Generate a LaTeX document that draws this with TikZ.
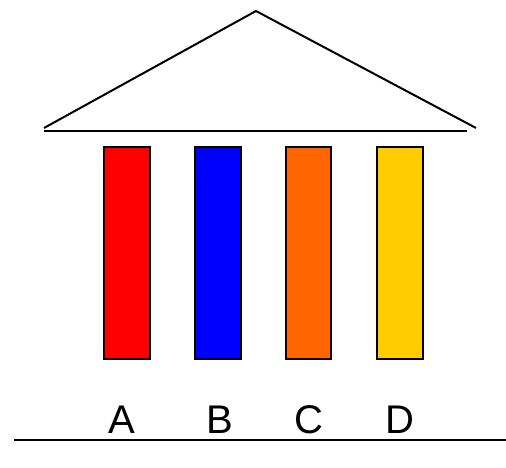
\documentclass[tikz,border=0pt]{standalone}
\usepackage{fontspec}
\setmainfont{Liberation Sans}
\definecolor{cred}{HTML}{FF0000}
\definecolor{cblue}{HTML}{0000FF}
\definecolor{corange}{HTML}{FF6600}
\definecolor{cyellow}{HTML}{FFCC00}
\begin{document}
\begin{tikzpicture}[x=1pt,y=-1pt,
  line/.style={draw=black,line width=2pt},
  pillar/.style={draw=black,line width=2pt},
  lbl/.style={inner sep=0pt,anchor=base,font=\fontsize{40}{42}\selectfont}]
\useasboundingbox (0,0) rectangle (506,467);
\coordinate (apex) at (256,11);
\coordinate (rl) at (44,128);
\coordinate (rr) at (476,128);
\draw[line,line join=miter] (rl) -- (apex) -- (rr);
\coordinate (bl) at (44,131);
\coordinate (br) at (467,131);
\draw[line] (bl) -- (br);
\path[pillar,fill=cred] (104,147) rectangle (150,359);
\path[pillar,fill=cblue] (195,147) rectangle (241,359);
\path[pillar,fill=corange] (286,147) rectangle (331,359);
\path[pillar,fill=cyellow] (377,147) rectangle (423,359);
\node[lbl] (A) at (122,433) {A};
\node[lbl] (B) at (220,433) {B};
\node[lbl] (C) at (309,433) {C};
\node[lbl] (D) at (400,433) {D};
\coordinate (gl) at (14,440);
\coordinate (gr) at (506,440);
\draw[line] (gl) -- (gr);
\end{tikzpicture}
\end{document}
